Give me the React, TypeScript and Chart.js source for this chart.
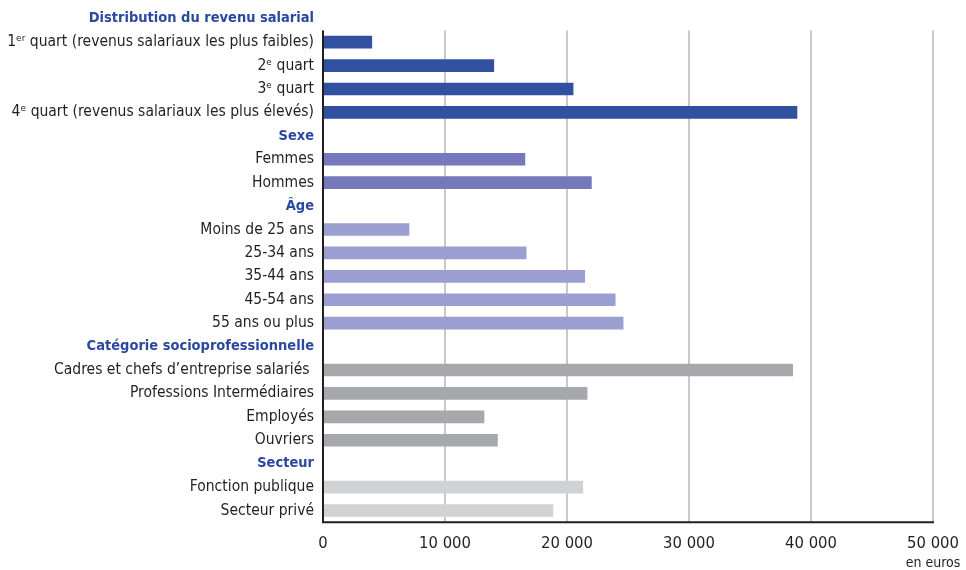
import React, { useEffect, useRef } from "react";
import { Chart, registerables } from "chart.js";

Chart.register(...registerables);

const categories: string[] = [
  "Distribution du revenu salarial",
  "1ᵉʳ quart (revenus salariaux les plus faibles)",
  "2ᵉ quart",
  "3ᵉ quart",
  "4ᵉ quart (revenus salariaux les plus élevés)",
  "Sexe",
  "Femmes",
  "Hommes",
  "Âge",
  "Moins de 25 ans",
  "25-34 ans",
  "35-44 ans",
  "45-54 ans",
  "55 ans ou plus",
  "Catégorie socioprofessionnelle",
  "Cadres et chefs d’entreprise salariés ",
  "Professions Intermédiaires",
  "Employés",
  "Ouvriers",
  "Secteur",
  "Fonction publique",
  "Secteur privé",
];

const values: (number | null)[] = [
  null, 4000, 14000, 20500, 38850,
  null, 16550, 22000,
  null, 7050, 16650, 21450, 23950, 24600,
  null, 38500, 21650, 13200, 14300,
  null, 21300, 18850,
];

const headerRows: boolean[] = [
  true, false, false, false, false,
  true, false, false,
  true, false, false, false, false, false,
  true, false, false, false, false,
  true, false, false,
];

const groupOfRow: number[] = [
  0, 0, 0, 0, 0,
  1, 1, 1,
  2, 2, 2, 2, 2, 2,
  3, 3, 3, 3, 3,
  4, 4, 4,
];

const xTicks: number[] = [0, 10000, 20000, 30000, 40000, 50000];
const unitLabel = "en euros";

const groupColors = ["#3151a0", "#7479bc", "#9a9ed0", "#a7a8ab", "#d1d2d4"];
const FONT = "'Liberation Sans Narrow', 'DejaVu Sans Condensed', 'Arial Narrow', sans-serif";
const TEXT = "#231f20";
const HEADER = "#2a48a0";

const fmt = (v: number) => {
  const s = String(Math.round(v));
  return s.replace(/\B(?=(\d{3})+(?!\d))/g, " ");
};

const framePlugin = {
  id: "frame",
  beforeDatasetsDraw(chart: any) {
    const { ctx, chartArea, scales } = chart;
    const x = scales.x;
    const y = scales.y;
    const top = y.getPixelForValue(0.5);
    ctx.save();
    ctx.strokeStyle = "#c8c8c8";
    ctx.lineWidth = 2;
    xTicks.forEach((v) => {
      if (v === 0) return;
      const px = Math.round(x.getPixelForValue(v));
      ctx.beginPath();
      ctx.moveTo(px, top);
      ctx.lineTo(px, chartArea.bottom);
      ctx.stroke();
    });
    ctx.restore();
  },
  afterDatasetsDraw(chart: any) {
    const { ctx, chartArea, scales } = chart;
    const x = scales.x;
    const y = scales.y;
    const top = y.getPixelForValue(0.5);
    const x0 = x.getPixelForValue(0);
    const xEnd = x.getPixelForValue(xTicks[xTicks.length - 1]);
    ctx.save();
    ctx.strokeStyle = TEXT;
    ctx.lineWidth = 2;
    ctx.beginPath();
    ctx.moveTo(x0, top);
    ctx.lineTo(x0, chartArea.bottom);
    ctx.lineTo(xEnd + 1, chartArea.bottom);
    ctx.stroke();
    ctx.fillStyle = TEXT;
    ctx.font = `14px ${FONT}`;
    ctx.textAlign = "center";
    ctx.textBaseline = "middle";
    ctx.fillText(unitLabel, xEnd, chartArea.bottom + 41);
    ctx.restore();
  },
};

export default function App() {
  const ref = useRef<HTMLCanvasElement | null>(null);
  useEffect(() => {
    if (!ref.current) return;
    const chart = new Chart(ref.current, {
      type: "bar",
      data: {
        labels: categories,
        datasets: [
          {
            data: values as any,
            backgroundColor: groupOfRow.map((g) => groupColors[g]),
            barThickness: 12,
          },
        ],
      },
      options: {
        indexAxis: "y",
        animation: false,
        responsive: true,
        maintainAspectRatio: false,
        layout: { padding: { top: 7, right: 33, bottom: 4, left: 0 } },
        plugins: {
          legend: { display: false },
          tooltip: { enabled: false },
        },
        scales: {
          x: {
            min: 0,
            max: 50000,
            afterBuildTicks: (scale: any) => {
              scale.ticks = xTicks.map((v) => ({ value: v }));
            },
            afterFit: (scale: any) => {
              scale.paddingLeft = 0;
              scale.paddingRight = 0;
            },
            grid: { display: false, drawTicks: false },
            border: { display: false },
            ticks: {
              color: TEXT,
              font: { family: FONT, size: 16.5 },
              padding: 12,
              callback: (v: any) => fmt(Number(v)),
            },
          },
          y: {
            grid: { display: false, drawTicks: false },
            border: { display: false },
            afterFit: (scale: any) => {
              scale.width = 323;
              scale.paddingTop = 0;
              scale.paddingBottom = 0;
            },
            ticks: {
              autoSkip: false,
              padding: 9,
              color: (ctx: any) => (headerRows[ctx.index] ? HEADER : TEXT),
              font: (ctx: any) => ({
                family: FONT,
                size: headerRows[ctx.index] ? 14.5 : 15.5,
                weight: headerRows[ctx.index] ? "bold" : "normal",
              }),
            },
          },
        },
      },
      plugins: [framePlugin],
    });
    return () => chart.destroy();
  }, []);
  return (
    <div style={{ position: "fixed", left: 0, top: 0, width: 966, height: 570, background: "#fff" }}>
      <canvas ref={ref} />
    </div>
  );
}
